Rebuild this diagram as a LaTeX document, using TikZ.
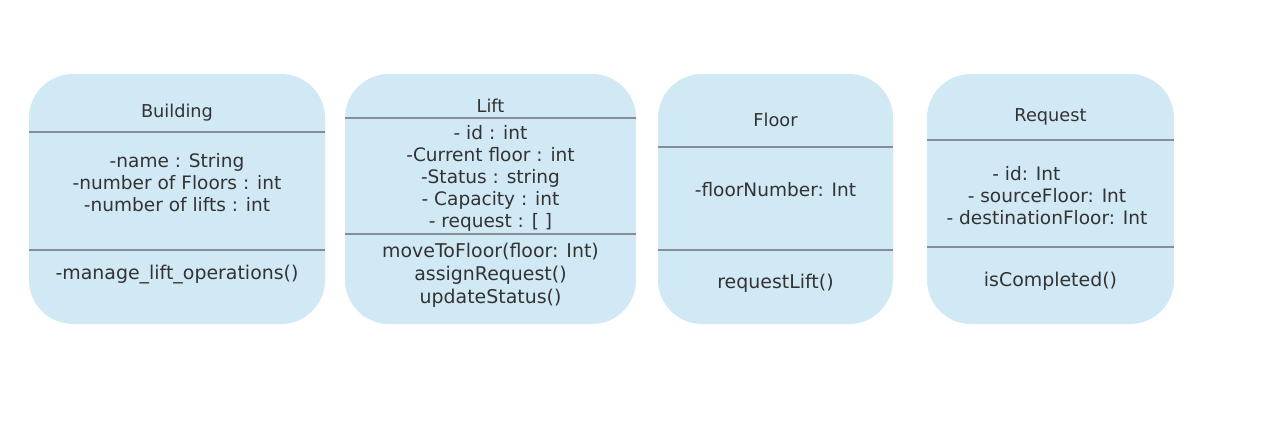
\documentclass[tikz,border=0pt]{standalone}
\usepackage{fontspec}
\setmainfont{DejaVu Sans}
\usetikzlibrary{positioning}
\definecolor{boxfill}{HTML}{D1E8F5}
\definecolor{linegray}{HTML}{858E96}
\definecolor{txtgray}{HTML}{333333}

\begin{document}
\begin{tikzpicture}[x=0.75pt,y=-0.75pt,
    classbox/.style={fill=boxfill,draw=none,rounded corners=33pt,
      minimum height=187.5pt,inner sep=0pt},
    title/.style={text=txtgray,font=\fontsize{13.3}{15}\selectfont},
    attr/.style={text=txtgray,align=center,font=\fontsize{13.9}{16.5}\selectfont},
    meth/.style={text=txtgray,align=center,font=\fontsize{14.2}{17.25}\selectfont},
    divider/.style={draw=linegray,line width=1.1pt}]
  \useasboundingbox (0,0) rectangle (1268,443);

  % class boxes
  \node[classbox,minimum width=222pt] (building) at (177,199) {};
  \node[classbox,minimum width=218.25pt] (lift) at (490.5,199) {};
  \node[classbox,minimum width=176.25pt] (floor) at (775.5,199) {};
  \node[classbox,minimum width=185.25pt] (request) at (1050.5,199) {};

  % Building
  \node[title] (buildingname) at (177,113) {Building};
  \draw[divider] (building.west |- 0,132) -- (building.east |- 0,132);
  \node[attr] (buildingattr) at (177,183) {-name : String\\-number of Floors : int\\-number of lifts : int};
  \draw[divider] (building.west |- 0,250) -- (building.east |- 0,250);
  \node[meth] (buildingmeth) at (177,274.5) {-manage\_lift\_operations()};

  % Lift
  \node[title] (liftname) at (490.5,106) {Lift};
  \draw[divider] (lift.west |- 0,118) -- (lift.east |- 0,118);
  \node[attr] (liftattr) at (490.5,178) {- id : int\\-Current floor : int\\-Status : string\\- Capacity : int\\- request : [ ]};
  \draw[divider] (lift.west |- 0,234) -- (lift.east |- 0,234);
  \node[meth] (liftmeth) at (490.5,275.5) {moveToFloor(floor: Int)\\assignRequest()\\updateStatus()};

  % Floor
  \node[title] (floorname) at (775.5,120) {Floor};
  \draw[divider] (floor.west |- 0,147) -- (floor.east |- 0,147);
  \node[attr] (floorattr) at (775.5,190) {-floorNumber: Int};
  \draw[divider] (floor.west |- 0,250) -- (floor.east |- 0,250);
  \node[meth] (floormeth) at (775.5,283) {requestLift()};

  % Request
  \node[title] (requestname) at (1050.5,117) {Request};
  \draw[divider] (request.west |- 0,140) -- (request.east |- 0,140);
  \node[attr] (requestattr) at (1047,196) {- id: Int\hspace*{31pt}\\- sourceFloor: Int\\- destinationFloor: Int};
  \draw[divider] (request.west |- 0,247) -- (request.east |- 0,247);
  \node[meth] (requestmeth) at (1050.5,281) {isCompleted()};
\end{tikzpicture}
\end{document}
